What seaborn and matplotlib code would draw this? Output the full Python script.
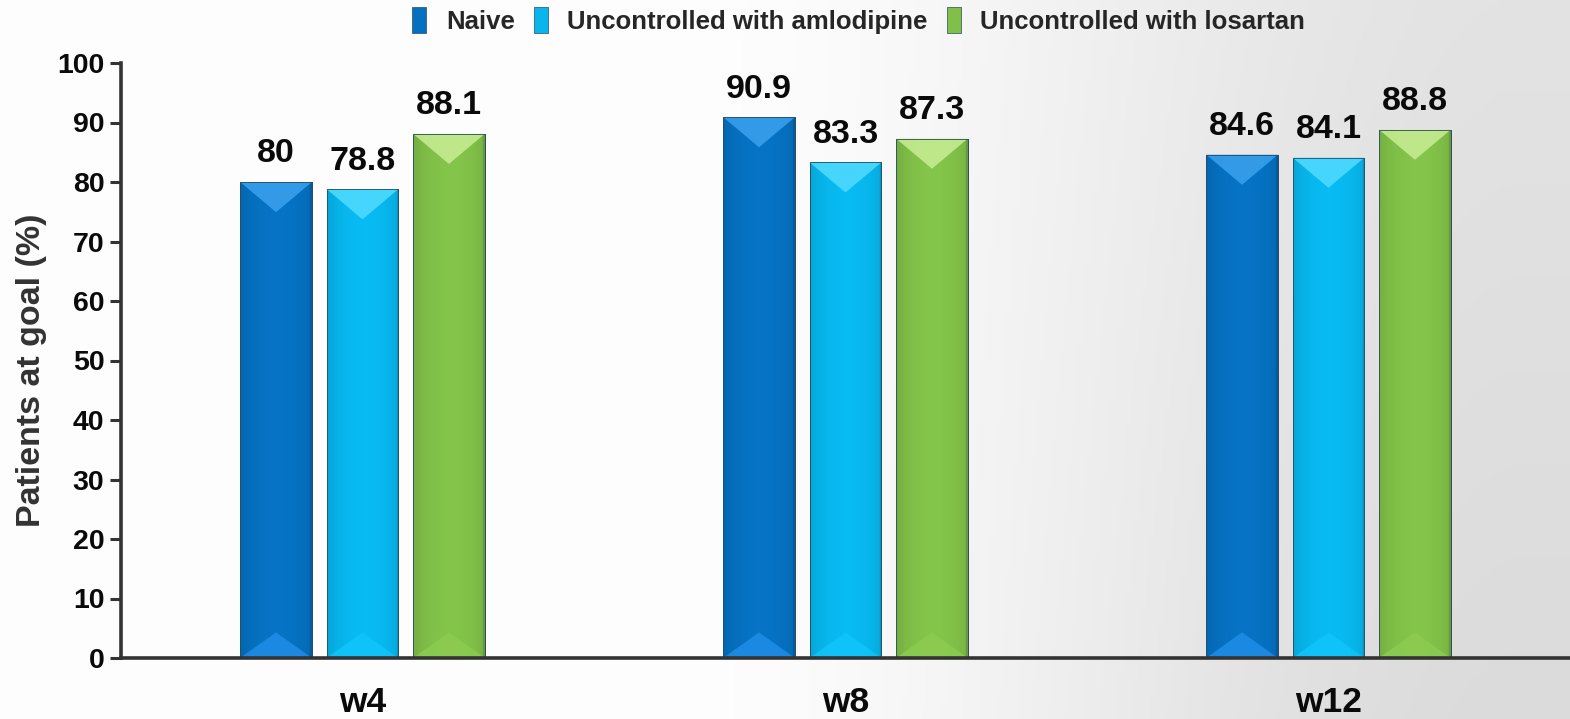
import numpy as np
import pandas as pd
import matplotlib
matplotlib.use("Agg")
import matplotlib.pyplot as plt
from matplotlib.patches import Polygon, Patch
from matplotlib.colors import to_rgb
import seaborn as sns

# ---- data ----
weeks = ["w4", "w8", "w12"]
groups = ["Naive", "Uncontrolled with amlodipine", "Uncontrolled with losartan"]
naive = [80, 90.9, 84.6]
amlodipine = [78.8, 83.3, 84.1]
losartan = [88.1, 87.3, 88.8]
y_ticks = list(range(0, 101, 10))

base_colors = ["#0670C0", "#07B6EC", "#80BF48"]
top_colors = ["#3AA2EE", "#52DCFF", "#C9EE95"]
bottom_colors = ["#1E8BE6", "#10C4FA", "#8CCB50"]

df = pd.DataFrame({
    "week": weeks * 3,
    "group": [g for g in groups for _ in weeks],
    "pct": naive + amlodipine + losartan,
})

sns.set_theme(style="white")
plt.rcParams["font.family"] = ["Liberation Sans", "DejaVu Sans"]
plt.rcParams["font.weight"] = "bold"

W, H = 1570, 719
fig = plt.figure(figsize=(W / 100, H / 100), dpi=100)

# ---- background: white on the left fading to light grey on the right ----
bg = fig.add_axes([0, 0, 1, 1], zorder=-10)
xx, yy = np.meshgrid(np.linspace(0, 1, 400), np.linspace(0, 1, 200))
t = np.clip((xx - 0.42) / 0.55, 0, 1)
t = t * t * (3 - 2 * t)
shade = 0.995 - 0.105 * t - 0.03 * t * (1 - yy)
bg.imshow(np.dstack([shade] * 3), extent=[0, 1, 0, 1], aspect="auto", origin="lower")
bg.axis("off")

ax = fig.add_axes([121 / W, 1 - 658 / H, 1 - 121 / W, (658 - 63) / H])
ax.set_facecolor("none")

sns.barplot(data=df, x="week", y="pct", hue="group", hue_order=groups,
            order=weeks, palette=base_colors, width=0.537, gap=0.17,
            errorbar=None, edgecolor="#2a4a60", linewidth=0.6,
            legend=False, ax=ax, zorder=2)

ax.set_xlim(-0.5, 2.5)
ax.set_ylim(0, 100)
ax.set_yticks(y_ticks)
ax.set_yticklabels([str(v) for v in y_ticks], fontsize=20.5, fontweight="bold", color="#0a0a0a")
ax.set_xticks(range(len(weeks)))
ax.set_xticklabels(weeks, fontsize=25.5, fontweight="bold", color="#0a0a0a")
ax.set_xticks([-0.5, 0.5, 1.5, 2.5], minor=True)
ax.tick_params(axis="x", which="major", length=0, pad=20)
ax.tick_params(axis="x", which="minor", length=8, width=2.2, color="#333333", direction="out")
ax.tick_params(axis="y", length=8, width=2.2, color="#333333", direction="out", pad=4, left=True)
ax.set_xlabel("")
ax.set_ylabel("Patients at goal (%)", fontsize=24.5, fontweight="bold", color="#333333")
ax.yaxis.set_label_coords(-0.051, 0.484)
for side in ("top", "right"):
    ax.spines[side].set_visible(False)
for side in ("left", "bottom"):
    ax.spines[side].set_color("#333333")
    ax.spines[side].set_linewidth(2.6)
    ax.spines[side].set_zorder(5)

# ---- bevel shading on each bar ----
fig.canvas.draw()
to_disp = ax.transData
to_data = ax.transData.inverted()
for ci, cont in enumerate(ax.containers):
    base = np.array(to_rgb(base_colors[ci]))
    for bar in cont:
        x0, x1 = bar.get_x(), bar.get_x() + bar.get_width()
        top = bar.get_height()
        # horizontal shading across the bar face
        s = np.linspace(0, 1, 64)
        prof = 0.90 + 0.12 * np.sin(np.pi * s) ** 0.6 + 0.02 * s
        prof[-2:] = 0.82
        grad = np.clip(base[None, None, :] * prof[None, :, None], 0, 1)
        im = ax.imshow(grad, extent=[x0, x1, 0, top], aspect="auto", zorder=2.5,
                       origin="lower")
        im.set_clip_path(bar)
        # triangles at the top and the bottom of the bar
        (px0, ptop), (px1, pbot) = to_disp.transform([(x0, top), (x1, 0)])
        depth = 0.42 * (px1 - px0)
        pc = 0.5 * (px0 + px1)
        tri_top = to_data.transform([(px0, ptop), (px1, ptop), (pc, ptop - depth)])
        tri_bot = to_data.transform([(px0, pbot), (px1, pbot), (pc, pbot + depth * 0.85)])
        ax.add_patch(Polygon(tri_top, closed=True, facecolor=top_colors[ci],
                             edgecolor="none", alpha=0.85, zorder=3))
        ax.add_patch(Polygon(tri_bot, closed=True, facecolor=bottom_colors[ci],
                             edgecolor="none", alpha=0.9, zorder=3))
        ax.add_patch(plt.Rectangle((x0, 0), x1 - x0, top, facecolor="none",
                                   edgecolor="#2a4a60", linewidth=0.6, zorder=3.5))
    ax.bar_label(cont, fmt="%g", padding=9, fontsize=24.5, fontweight="bold",
                 color="#0a0a0a", zorder=6)

# ---- legend ----
handles = [Patch(facecolor=c, edgecolor="#2a4a60", linewidth=0.5) for c in base_colors]
fig.legend(handles, groups, loc="center", bbox_to_anchor=(0.547, 0.972), ncol=3,
           frameon=False, handlelength=0.55, handleheight=1.2,
           handletextpad=0.75, columnspacing=0.75, prop={"weight": "bold", "size": 18.5})

fig.savefig("out.png", dpi=100)
